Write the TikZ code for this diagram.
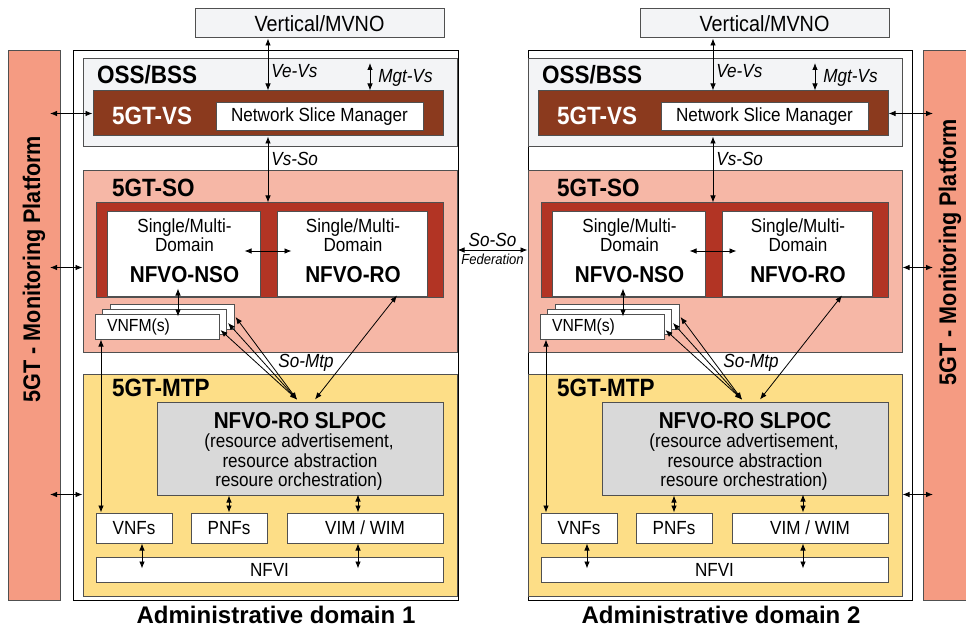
\documentclass[tikz,border=0pt]{standalone}
\usepackage{fontspec}
\setmainfont{Liberation Sans}[FakeStretch=0.9]
\newfontfamily\widefont{Liberation Sans}
\usetikzlibrary{arrows.meta,positioning}

\definecolor{boxgray}{HTML}{505050}
\definecolor{ossfill}{HTML}{F3F4F6}
\definecolor{vsbrown}{HTML}{8B3A1E}
\definecolor{sored}{HTML}{B23424}
\definecolor{sofill}{HTML}{F6B7A6}
\definecolor{monfill}{HTML}{F59B82}
\definecolor{mtpfill}{HTML}{FDDE87}
\definecolor{slpocfill}{HTML}{D9D9D9}

\newcommand{\fsz}[1]{\fontsize{#1}{#1}\selectfont}

\tikzset{
  >={Latex[length=7pt,width=5.5pt]},
  area/.style={draw=boxgray, line width=1pt, inner sep=0pt, anchor=center},
  head/.style={font=\fsz{25}\bfseries, anchor=base west, inner sep=0pt},
  lbl/.style={font=\fsz{19}\itshape, inner sep=3pt},
  conn/.style={<->, line width=0.8pt},
  nfvotxt/.style={anchor=base, inner sep=0pt, font=\fsz{19}},
  nfvoname/.style={anchor=base, inner sep=0pt, font=\fsz{23}\bfseries},
}

\begin{document}
\begin{tikzpicture}[x=1pt,y=-1pt]
\useasboundingbox (0,0) rectangle (966,631);
\clip (0,0) rectangle (966,631); % right platform bar runs off the page

% monitoring platform on both sides
\node[area, fill=monfill, minimum width=52, minimum height=549] (monL) at (34,325.5) {};
\node[rotate=90, font=\fsz{24}\bfseries] (monLt) at (34,269) {5GT - Monitoring Platform};
\node[area, fill=monfill, minimum width=52, minimum height=549] (monR) at (949,325.5) {};
\node[rotate=90, font=\fsz{24}\bfseries] (monRt) at (950,252) {5GT - Monitoring Platform};

% the two administrative domains
\node[draw=black, line width=1pt, fill=white, minimum width=385, minimum height=549] (adm1) at (265.5,325.5) {};
\node[draw=black, line width=1pt, fill=white, minimum width=384, minimum height=549] (adm2) at (720,325.5) {};
\node[font=\widefont\fsz{24}\bfseries] (adm1t) at (276,615) {Administrative domain 1};
\node[font=\widefont\fsz{24}\bfseries] (adm2t) at (721,615) {Administrative domain 2};

\foreach \d/\s in {1/0,2/445}{%
\begin{scope}[xshift=\s]
  % OSS/BSS layer
  \node[area, fill=ossfill, minimum width=249, minimum height=29, font=\fsz{22}] (vert\d) at (319.5,23.5) {Vertical/MVNO};
  \node[area, fill=ossfill, minimum width=374, minimum height=88] (oss\d) at (270,103) {};
  \node[head] (osst\d) at (97,83.3) {OSS/BSS};
  \node[area, fill=vsbrown, minimum width=350, minimum height=45] (vs\d) at (268,113.5) {};
  \node[head, text=white] (vst\d) at (112,125) {5GT-VS};
  \node[area, fill=white, minimum width=207, minimum height=28, font=\fsz{19}] (nsm\d) at (319.5,117) {Network Slice Manager};

  % service orchestrator
  \node[area, fill=sofill, minimum width=374, minimum height=181] (so\d) at (270,261.5) {};
  \node[head] (sot\d) at (112,196.7) {5GT-SO};
  \node[area, fill=sored, minimum width=347, minimum height=94] (soin\d) at (269.5,250) {};
  \node[area, fill=white, minimum width=153, minimum height=84] (nso\d) at (183.5,254) {};
  \node[area, fill=white, minimum width=150, minimum height=84] (ro\d) at (352,254) {};
  \node[nfvotxt] (nsoa\d) at (184.5,232.7) {Single/Multi-};
  \node[nfvotxt] (nsob\d) at (184.5,251.7) {Domain};
  \node[nfvoname] (nsoc\d) at (184.5,282.7) {NFVO-NSO};
  \node[nfvotxt] (roa\d) at (353,232.7) {Single/Multi-};
  \node[nfvotxt] (rob\d) at (353,251.7) {Domain};
  \node[nfvoname] (roc\d) at (353,282.7) {NFVO-RO};
  \node[area, fill=white, minimum width=124, minimum height=25] (vnfmC\d) at (172,316.5) {};
  \node[area, fill=white, minimum width=124, minimum height=25] (vnfmB\d) at (164.5,321.5) {};
  \node[area, fill=white, minimum width=124, minimum height=25, text width=100, inner xsep=12, align=left, font=\fsz{17.5}] (vnfmA\d) at (157,326.5) {VNFM(s)};

  % mobile transport and computing platform
  \node[area, fill=mtpfill, minimum width=374, minimum height=222] (mtp\d) at (270,485) {};
  \node[head] (mtpt\d) at (112,396.7) {5GT-MTP};
  \node[area, fill=slpocfill, minimum width=286, minimum height=93] (slpoc\d) at (300,448.5) {};
  \node[nfvoname] (slpoca\d) at (300,428.3) {NFVO-RO SLPOC};
  \node[nfvotxt] (slpocb\d) at (299,447.5) {(resource advertisement,};
  \node[nfvotxt] (slpocc\d) at (300,467) {resource abstraction};
  \node[nfvotxt] (slpocd\d) at (299,486.5) {resoure orchestration)};
  \node[area, fill=white, minimum width=76, minimum height=30, font=\fsz{19}] (vnfs\d) at (134,528) {VNFs};
  \node[area, fill=white, minimum width=76, minimum height=30, font=\fsz{19}] (pnfs\d) at (229,528) {PNFs};
  \node[area, fill=white, minimum width=156, minimum height=30, font=\fsz{19}] (vim\d) at (365,528) {VIM / WIM};
  \node[area, fill=white, minimum width=347, minimum height=25, font=\fsz{19}] (nfvi\d) at (269.5,569.5) {NFVI};

  % reference points
  \coordinate (mgt\d) at (370,63);
  \draw[conn] (vert\d.south -| vs\d.north) -- node[lbl, right, pos=0.62] {Ve-Vs} (vs\d.north);
  \draw[conn] (mgt\d) -- node[lbl, right, pos=0.55, xshift=5pt] {Mgt-Vs} (vs\d.north -| mgt\d);
  \draw[conn] (vs\d.south) -- node[lbl, right, pos=0.34] {Vs-So} (soin\d.north -| vs\d.south);
  \draw[conn] ([xshift=-16pt,yshift=3pt]nso\d.east) -- ([xshift=15pt,yshift=3pt]ro\d.west);
  \draw[conn] ([xshift=-5.5pt,yshift=8pt]nso\d.south) -- ([xshift=21pt,yshift=-3pt]vnfmA\d.north);
  \draw[conn] ([xshift=-56pt]vnfmA\d.south) -- ([xshift=-33pt]vnfs\d.north);
  \foreach \v/\o in {A/-3.5,B/-1.5,C/-0.5}
    \draw[conn] ([xshift=1pt,yshift=\o pt]vnfm\v\d.east) -- ([xshift=-3pt,yshift=2pt]slpoc\d.north);
  \draw[conn] ([xshift=45pt,yshift=1pt]ro\d.south) -- ([xshift=15pt,yshift=2pt]slpoc\d.north);
  \node[lbl] (somtp\d) at (306,363) {So-Mtp};
  \draw[conn] (slpoc\d.south -| pnfs\d.north) -- (pnfs\d.north);
  \draw[conn] ([xshift=-7pt]vim\d.north) -- ++(0,-18);
  \draw[conn] ([xshift=8pt]vnfs\d.south) -- ++(0,25);
  \draw[conn] ([xshift=-7pt]vim\d.south) -- ++(0,25);
\end{scope}
}

% links to the monitoring platform
\coordinate (mL) at (50,0);
\coordinate (mR) at (933,0);
\coordinate (r2) at (0,267.5);
\coordinate (r3) at (0,494.5);
\draw[conn] (vs1.west -| mL) -- (vs1.west);
\draw[conn] (r2 -| mL) -- (r2 -| so1.west);
\draw[conn] (r3 -| mL) -- (r3 -| mtp1.west);
\draw[conn] (vs2.east) -- (vs2.east -| mR);
\draw[conn] (r2 -| so2.east) -- (r2 -| mR);
\draw[conn] (r3 -| mtp2.east) -- (r3 -| mR);

% federation between the two orchestrators
\draw[conn] (so1.east |- soin1) -- node[lbl, above] {So-So} node[font=\fsz{14.5}\itshape, below] {Federation} (so2.west |- soin1);
\end{tikzpicture}
\end{document}
